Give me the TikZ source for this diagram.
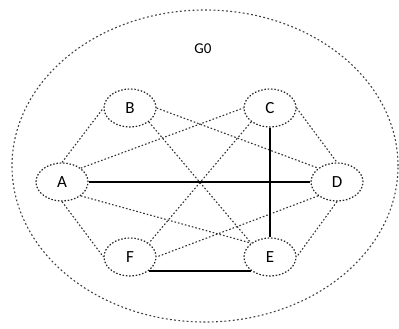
\documentclass[tikz,border=0pt]{standalone}
\usepackage{fontspec}
\setmainfont{Carlito}
\usetikzlibrary{shapes.geometric}
\usetikzlibrary{arrows}

\begin{document}
\begin{tikzpicture}[x=1pt, y=1pt,
	vertex/.style={ellipse, draw=black!85, dash pattern=on 1.5pt off 1.8pt, line width=1.2pt, minimum width=52pt, minimum height=38pt, inner sep=0pt, font=\fontsize{17}{17}\selectfont},
	weak/.style={black!80, dash pattern=on 1.6pt off 2pt, line width=1.1pt},
	strong/.style={black, line width=1.4pt}]
	\useasboundingbox (0,0) rectangle (399,329);

	% Graph boundary and its name
	\draw[black!75, dash pattern=on 1.8pt off 2.4pt, line width=1.1pt] (205,163) ellipse (193 and 156);
	\node (g0) at (203,280) {\fontsize{15}{15}\selectfont G0};

	% Place the six vertices
	\node[vertex] (A) at (62,147) {A};
	\node[vertex] (B) at (130,221) {B};
	\node[vertex] (C) at (270,221) {C};
	\node[vertex] (D) at (337,147) {D};
	\node[vertex] (F) at (130,72) {F};
	\node[vertex] (E) at (270,72) {E};

	% Dashed edges
	\draw[weak] (A.north) -- (B.west);
	\draw[weak] (A.north east) -- (C.west);
	\draw[weak] (A.south east) -- (E.north west);
	\draw[weak] (A.south) -- (F.west);
	\draw[weak] (B.east) -- (D.north west);
	\draw[weak] (B.south east) -- (E.north west);
	\draw[weak] (C.east) -- (D.north);
	\draw[weak] (C.south west) -- (F.north east);
	\draw[weak] (D.south) -- (E.east);
	\draw[weak] (D.south west) -- (F.east);

	% Solid edges
	\draw[strong] (A.east) -- (D.west);
	\draw[strong] (C.south) -- (E.north);
	\draw[strong] (F.south east) -- (E.south west);
\end{tikzpicture}
\end{document}
